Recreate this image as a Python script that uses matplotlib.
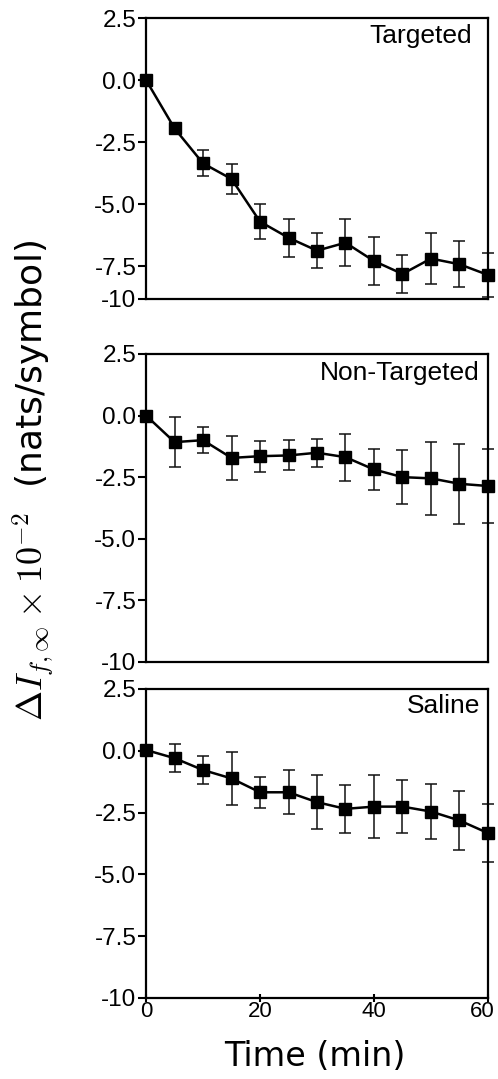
import numpy as np
import matplotlib
matplotlib.use('Agg')
import matplotlib.pyplot as plt
import matplotlib.transforms as mtransforms

# time points (min)
time_min = [0, 5, 10, 15, 20, 25, 30, 35, 40, 45, 50, 55, 60]

# delta I values (x 10^-2 nats/symbol), with error bar half-widths
targeted = [0.0, -1.95, -3.36, -3.99, -5.71, -6.36, -6.88, -6.56, -7.30, -7.82, -7.20, -7.43, -7.86]
targeted_err = [0.0, 0.0, 0.52, 0.60, 0.70, 0.76, 0.70, 0.95, 0.96, 0.75, 1.02, 0.93, 0.88]

non_targeted = [0.0, -1.08, -1.00, -1.72, -1.65, -1.62, -1.51, -1.69, -2.19, -2.50, -2.55, -2.77, -2.86]
non_targeted_err = [0.0, 1.00, 0.53, 0.90, 0.63, 0.61, 0.57, 0.96, 0.84, 1.09, 1.47, 1.63, 1.52]

saline = [0.03, -0.30, -0.78, -1.12, -1.68, -1.68, -2.08, -2.35, -2.26, -2.26, -2.46, -2.82, -3.33]
saline_err = [0.0, 0.56, 0.57, 1.08, 0.63, 0.89, 1.10, 0.98, 1.28, 1.08, 1.10, 1.20, 1.19]

panel_names = ["Targeted", "Non-Targeted", "Saline"]

y_ticks = [2.5, 0.0, -2.5, -5.0, -7.5, -10]
y_ticklabels = ["2.5", "0.0", "-2.5", "-5.0", "-7.5", "-10"]
x_ticks = [0, 20, 40, 60]
x_ticklabels = ["0", "20", "40", "60"]

plt.rcParams['mathtext.fontset'] = 'cm'
tick_font = 'Liberation Sans'

fig = plt.figure(figsize=(4.98, 10.79), dpi=100)

# axes boxes [left, bottom, width, height] in figure fractions
boxes = [
    [0.2932, 0.7229, 0.6867, 0.2604],
    [0.2932, 0.3865, 0.6867, 0.2855],
    [0.2932, 0.0751, 0.6867, 0.2864],
]
series = [(targeted, targeted_err), (non_targeted, non_targeted_err), (saline, saline_err)]
# top panel is cut short in the original: its bottom sits at about -8.83
ylims = [(-8.83, 2.5), (-10, 2.5), (-10, 2.5)]
label_pos = [(0.953, 0.978), (0.977, 0.978), (0.977, 0.985)]

for i in range(3):
    ax = fig.add_axes(boxes[i])
    vals, errs = series[i]
    ax.errorbar(time_min, vals, yerr=errs, color='black', ecolor='#111111',
                elinewidth=1.1, capsize=4.5, capthick=1.1, lw=0, clip_on=False, zorder=2)
    ax.plot(time_min, vals, color='black', lw=1.8, marker='s', markersize=9,
            clip_on=False, zorder=3)
    ax.set_xlim(0, 60)
    ax.set_ylim(*ylims[i])

    if i == 0:
        ticks = [2.5, 0.0, -2.5, -5.0, -7.5, ylims[0][0]]
    else:
        ticks = y_ticks
    ax.set_yticks(ticks)
    ax.set_yticklabels(y_ticklabels, fontfamily=tick_font, fontsize=17.5)
    ax.tick_params(axis='y', direction='out', length=6, width=1.5, pad=1)

    if i == 2:
        ax.set_xticks(x_ticks)
        ax.set_xticklabels(x_ticklabels, fontfamily=tick_font, fontsize=16)
        ax.tick_params(axis='x', direction='inout', length=6, width=1.5, pad=-1)
        # nudge the "60" label left so it stays inside the figure
        last = ax.get_xticklabels()[-1]
        last.set_transform(last.get_transform() +
                           mtransforms.ScaledTranslation(-4 / 72, 0, fig.dpi_scale_trans))
    else:
        ax.set_xticks([])

    for s in ax.spines.values():
        s.set_linewidth(1.6)

    ax.text(label_pos[i][0], label_pos[i][1], panel_names[i], transform=ax.transAxes,
            ha='right', va='top', fontsize=19, fontfamily=tick_font)

fig.text(0.632, 0.012, "Time (min)", ha='center', va='baseline', fontsize=24)
fig.text(0.068, 0.555, r"$\Delta I_{f,\infty}\times10^{-2}$  (nats/symbol)",
         rotation=90, ha='center', va='center', fontsize=26)

plt.savefig("out.png", dpi=100)
